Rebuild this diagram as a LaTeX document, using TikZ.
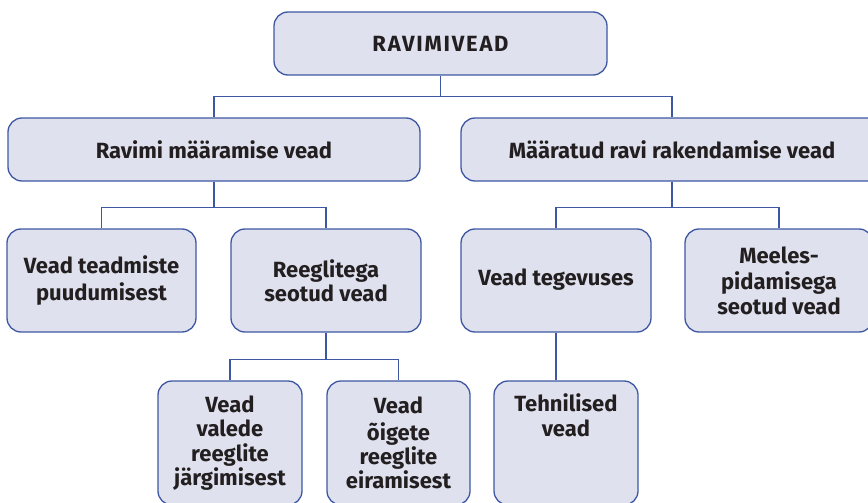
\documentclass[tikz,border=0pt]{standalone}
\usepackage{fontspec}
\setmainfont{Fira Sans}
\definecolor{boxfill}{HTML}{DFE1EE}
\definecolor{boxline}{HTML}{3D57A3}
\definecolor{txt}{HTML}{231F20}
\begin{document}
\begin{tikzpicture}[x=1pt,y=-1pt,
  box/.style={draw=boxline, fill=boxfill, line width=1.3pt, rounded corners=14pt,
    align=center, text=txt, font=\bfseries\fontsize{22}{24.4}\selectfont, inner sep=0pt},
  link/.style={draw=boxline, line width=1.3pt}]
\useasboundingbox (0,0) rectangle (868,503);
\clip (0,0) rectangle (868,503);
\node[box, minimum width=333pt, minimum height=63pt] (root) at (440.5,43.5)
  {\addfontfeature{LetterSpace=8}RAVIMIVEAD};
\node[box, minimum width=412pt, minimum height=63pt] (l1a) at (214,149.5) {Ravimi määramise vead};
\node[box, minimum width=422pt, minimum height=63pt] (l1b) at (672,149.5) {Määratud ravi rakendamise vead};
\node[box, minimum width=189pt, minimum height=103pt] (l2a) at (101.5,280.5) {\strut Vead teadmiste\\puudumisest};
\node[box, minimum width=190pt, minimum height=103pt] (l2b) at (326,280.5) {\strut Reeglitega\\seotud vead};
\node[box, minimum width=190pt, minimum height=103pt] (l2c) at (556,280.5) {\strut Vead tegevuses};
\node[box, minimum width=188pt, minimum height=103pt] (l2d) at (779,280.5) {\strut Meeles-\\pidamisega\\seotud vead};
\node[box, minimum width=144pt, minimum height=124pt] (l3a) at (230,443) {\strut Vead\\valede\\reeglite\\järgimisest};
\node[box, minimum width=143pt, minimum height=124pt] (l3b) at (398.5,443) {\strut Vead\\õigete\\reeglite\\eiramisest};
\node[box, minimum width=144pt, minimum height=124pt] (l3c) at (566,443) {\strut Tehnilised\\vead\\\strut\\\strut};
\path[link] (root.south) -- ++(0,21) -| (l1a.north);
\path[link] (root.south) -- ++(0,21) -| (l1b.north);
\path[link] (l1a.south) -- ++(0,26) -| (l2a.north);
\path[link] (l1a.south) -- ++(0,26) -| (l2b.north);
\path[link] (l1b.south) -- ++(0,26) -| (l2c.north);
\path[link] (l1b.south) -- ++(0,26) -| (l2d.north);
\path[link] (l2b.south) -- ++(0,27) -| (l3a.north);
\path[link] (l2b.south) -- ++(0,27) -| (l3b.north);
\path[link] (l2c.south) -- (l2c.south |- l3c.north);
\end{tikzpicture}
\end{document}
